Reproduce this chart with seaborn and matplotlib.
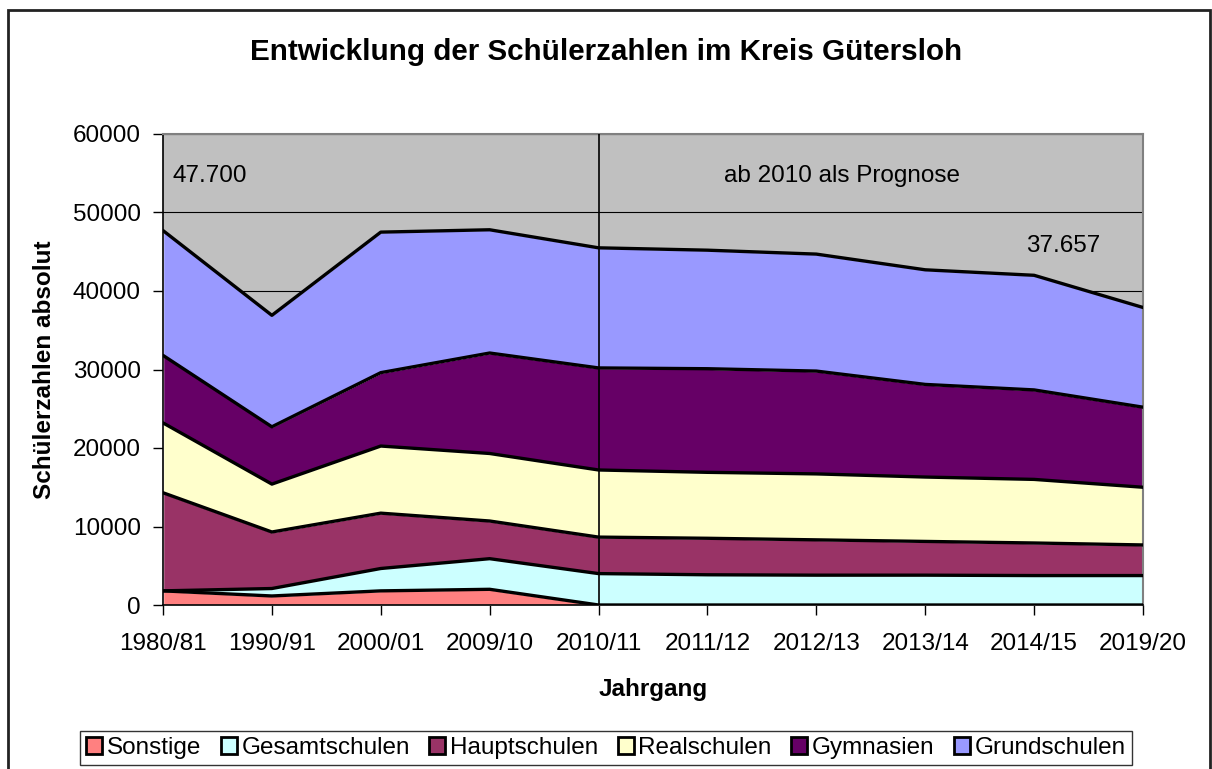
import numpy as np
import pandas as pd
import seaborn as sns
import matplotlib.pyplot as plt
from matplotlib.patches import Patch, Rectangle

# Daten
jahrgang = ['1980/81', '1990/91', '2000/01', '2009/10', '2010/11',
            '2011/12', '2012/13', '2013/14', '2014/15', '2019/20']
sonstige = [1800, 1150, 1800, 2000, 0, 0, 0, 0, 0, 0]
gesamtschulen = [0, 950, 2850, 3900, 4000, 3850, 3800, 3800, 3750, 3750]
hauptschulen = [12500, 7200, 7050, 4800, 4650, 4650, 4500, 4300, 4150, 3900]
realschulen = [8900, 6100, 8550, 8600, 8550, 8400, 8400, 8200, 8100, 7350]
gymnasien = [8600, 7300, 9350, 12800, 13000, 13200, 13100, 11800, 11400, 10200]
grundschulen = [15900, 14200, 17900, 15700, 15300, 15100, 14900, 14600, 14600, 12700]

schulformen = ['Sonstige', 'Gesamtschulen', 'Hauptschulen', 'Realschulen', 'Gymnasien', 'Grundschulen']
farben = ['#FF8080', '#CCFFFF', '#993366', '#FFFFCC', '#660066', '#9999FF']

df = pd.DataFrame({
    'Sonstige': sonstige,
    'Gesamtschulen': gesamtschulen,
    'Hauptschulen': hauptschulen,
    'Realschulen': realschulen,
    'Gymnasien': gymnasien,
    'Grundschulen': grundschulen,
}, index=jahrgang)
df['pos'] = np.arange(len(jahrgang))

# kumulierte Werte fuer die Grenzlinien
cum = df[schulformen].cumsum(axis=1)
cum['pos'] = df['pos']
lang = cum.melt(id_vars='pos', var_name='Schulform', value_name='summe')

sns.set_style("white")
plt.rcParams['font.family'] = ['Liberation Sans', 'DejaVu Sans']
plt.rcParams['text.color'] = 'black'
plt.rcParams['axes.labelcolor'] = 'black'
plt.rcParams['xtick.color'] = 'black'
plt.rcParams['ytick.color'] = 'black'

fig = plt.figure(figsize=(12.12, 7.69), dpi=100)
ax = fig.add_axes([163 / 1212, 1 - 605 / 769, (1143 - 163) / 1212, (605 - 134) / 769])
ax.set_facecolor('#C0C0C0')

ax.stackplot(df['pos'], [df[s] for s in schulformen], colors=farben, zorder=2)
sns.lineplot(data=lang, x='pos', y='summe', units='Schulform', estimator=None,
             color='black', linewidth=2.4, ax=ax, zorder=3, legend=False)

for yv in range(10000, 60001, 10000):
    ax.axhline(yv, color='black', linewidth=0.8, zorder=1)
ax.axvline(4, color='black', linewidth=1.2, zorder=4)

ax.set_xlim(0, len(jahrgang) - 1)
ax.set_ylim(0, 60000)
ax.set_xticks(df['pos'])
ax.set_xticklabels(jahrgang)
ax.set_yticks(range(0, 60001, 10000))
ax.tick_params(axis='both', labelsize=17.5, direction='out', length=7, width=1, color='black')
ax.tick_params(axis='x', pad=13)
ax.tick_params(axis='y', pad=9)
ax.xaxis.set_ticks_position('bottom')
ax.yaxis.set_ticks_position('left')
for side in ['top', 'right']:
    ax.spines[side].set_color('#808080')
    ax.spines[side].set_linewidth(1.5)
for side in ['left', 'bottom']:
    ax.spines[side].set_color('black')
    ax.spines[side].set_linewidth(1.2)

ax.set_xlabel('Jahrgang', fontsize=17.5, fontweight='bold', labelpad=17)
ax.set_ylabel('Schülerzahlen absolut', fontsize=17.5, fontweight='bold', labelpad=12)
fig.suptitle('Entwicklung der Schülerzahlen im Kreis Gütersloh', fontsize=21.3,
             fontweight='bold', y=1 - 52 / 769, va='center')

ax.text(0.09, 54600, '47.700', fontsize=17.5, va='center', ha='left', zorder=5)
ax.text(6.24, 54600, 'ab 2010 als Prognose', fontsize=17.5, va='center', ha='center', zorder=5)
ax.text(8.27, 45700, '37.657', fontsize=17.5, va='center', ha='center', zorder=5)

handles = [Patch(facecolor=c, edgecolor='black', linewidth=2) for c in farben]
leg = fig.legend(handles, schulformen, loc='center', bbox_to_anchor=(606 / 1212, 1 - 748 / 769),
                 ncol=6, fontsize=17.5, frameon=True, fancybox=False, edgecolor='black',
                 handlelength=0.65, handleheight=0.65, handletextpad=0.2, columnspacing=0.8,
                 borderpad=0.25, borderaxespad=0)
leg.get_frame().set_linewidth(1.0)

fig.patches.append(Rectangle((8 / 1212, -0.05), (1210 - 8) / 1212, 1.05 - 10 / 769,
                             transform=fig.transFigure, fill=False, edgecolor='#222222',
                             linewidth=2))

plt.savefig('out.png', dpi=100)
